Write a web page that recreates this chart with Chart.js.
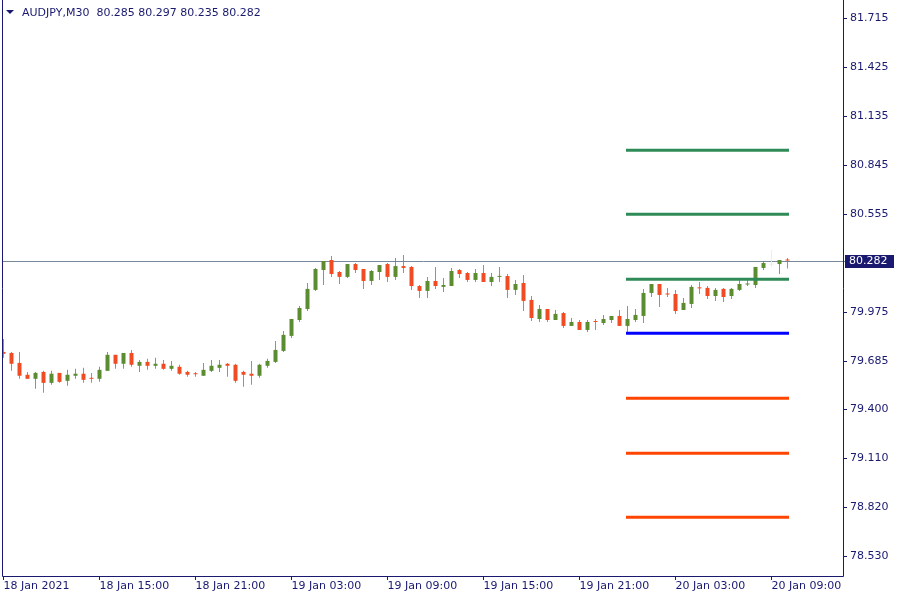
<!DOCTYPE html>
<html>
<head>
<meta charset="utf-8">
<script src="https://cdn.jsdelivr.net/npm/chart.js@4.4.1/dist/chart.umd.min.js"></script>
<style>
  html, body { margin: 0; padding: 0; background: #fff; }
</style>
</head>
<body>
<canvas id="chart" width="900" height="600"></canvas>
<script>
// AUDJPY M30, 18 Jan 09:00 .. 20 Jan 10:00 (one value per bar)
var symbol = 'AUDJPY,M30'

var openP = [79.741, 79.735, 79.676, 79.606, 79.582, 79.623, 79.558, 79.617, 79.570, 79.600,
  79.612, 79.588, 79.582, 79.629, 79.724, 79.671, 79.735, 79.659, 79.682, 79.659,
  79.671, 79.641, 79.653, 79.623, 79.614, 79.600, 79.629, 79.647, 79.671, 79.665,
  79.623, 79.612, 79.600, 79.659, 79.682, 79.747, 79.836, 79.930, 79.995, 80.108,
  80.226, 80.285, 80.214, 80.185, 80.261, 80.232, 80.161, 80.214, 80.261, 80.185,
  80.249, 80.244, 80.131, 80.102, 80.161, 80.126, 80.131, 80.226, 80.208, 80.167,
  80.208, 80.155, 80.185, 80.190, 80.108, 80.149, 80.049, 79.936, 79.995, 79.930,
  79.971, 79.895, 79.918, 79.871, 79.924, 79.912, 79.930, 79.954, 79.895, 79.930,
  79.954, 80.090, 80.143, 80.087, 80.084, 79.989, 80.025, 80.123, 80.120, 80.072,
  80.114, 80.072, 80.108, 80.140, 80.137, 80.238, 80.258, 80.261, 80.285]

var highP = [79.818, 79.741, 79.741, 79.623, 79.623, 79.629, 79.629, 79.617, 79.635, 79.641,
  79.647, 79.617, 79.653, 79.741, 79.724, 79.735, 79.753, 79.694, 79.700, 79.706,
  79.694, 79.688, 79.665, 79.629, 79.623, 79.676, 79.694, 79.694, 79.676, 79.671,
  79.629, 79.688, 79.671, 79.700, 79.806, 79.865, 79.936, 80.013, 80.149, 80.238,
  80.279, 80.308, 80.220, 80.261, 80.267, 80.232, 80.226, 80.255, 80.267, 80.297,
  80.314, 80.249, 80.137, 80.185, 80.244, 80.179, 80.238, 80.232, 80.214, 80.232,
  80.255, 80.208, 80.244, 80.202, 80.167, 80.196, 80.072, 80.019, 79.995, 79.989,
  79.977, 79.942, 79.930, 79.930, 79.936, 79.960, 79.954, 79.989, 80.013, 79.995,
  80.114, 80.143, 80.143, 80.120, 80.108, 80.060, 80.137, 80.155, 80.131, 80.120,
  80.120, 80.120, 80.179, 80.167, 80.244, 80.279, 80.344, 80.285, 80.297]

var lowP = [79.706, 79.629, 79.582, 79.582, 79.523, 79.499, 79.547, 79.558, 79.541, 79.582,
  79.558, 79.558, 79.564, 79.629, 79.641, 79.641, 79.653, 79.623, 79.635, 79.641,
  79.635, 79.629, 79.606, 79.594, 79.594, 79.600, 79.623, 79.623, 79.594, 79.558,
  79.535, 79.547, 79.588, 79.647, 79.676, 79.741, 79.824, 79.918, 79.983, 80.102,
  80.137, 80.185, 80.143, 80.179, 80.208, 80.114, 80.137, 80.167, 80.155, 80.167,
  80.208, 80.108, 80.060, 80.060, 80.114, 80.096, 80.131, 80.179, 80.155, 80.155,
  80.155, 80.131, 80.155, 80.060, 80.078, 79.983, 79.924, 79.918, 79.918, 79.930,
  79.883, 79.895, 79.871, 79.859, 79.871, 79.901, 79.912, 79.895, 79.859, 79.918,
  79.912, 80.066, 80.007, 80.066, 79.966, 79.989, 80.001, 80.084, 80.054, 80.043,
  80.037, 80.054, 80.102, 80.131, 80.120, 80.226, 80.244, 80.202, 80.235]

var closeP = [79.730, 79.671, 79.600, 79.582, 79.617, 79.558, 79.612, 79.564, 79.606, 79.612,
  79.576, 79.582, 79.635, 79.724, 79.671, 79.735, 79.665, 79.682, 79.659, 79.671,
  79.641, 79.659, 79.612, 79.606, 79.609, 79.635, 79.659, 79.665, 79.659, 79.570,
  79.606, 79.600, 79.665, 79.688, 79.753, 79.842, 79.936, 80.001, 80.114, 80.232,
  80.279, 80.202, 80.185, 80.261, 80.226, 80.161, 80.220, 80.255, 80.185, 80.249,
  80.238, 80.131, 80.102, 80.161, 80.131, 80.137, 80.220, 80.202, 80.167, 80.208,
  80.155, 80.185, 80.190, 80.108, 80.143, 80.043, 79.942, 79.995, 79.930, 79.966,
  79.895, 79.918, 79.871, 79.918, 79.918, 79.936, 79.954, 79.895, 79.936, 79.960,
  80.090, 80.143, 80.078, 80.081, 79.983, 80.031, 80.126, 80.117, 80.072, 80.108,
  80.066, 80.114, 80.143, 80.146, 80.244, 80.267, 80.258, 80.285, 80.282]

// x axis labels sit on every 12th bar
var timeTickBars = [0, 12, 24, 36, 48, 60, 72, 84, 96]
var timeTickLabels = ['18 Jan 2021', '18 Jan 15:00', '18 Jan 21:00', '19 Jan 03:00', '19 Jan 09:00',
  '19 Jan 15:00', '19 Jan 21:00', '20 Jan 03:00', '20 Jan 09:00']

var priceTicks = [81.715, 81.425, 81.135, 80.845, 80.555, 79.975, 79.685, 79.400, 79.110, 78.820, 78.530]

// level lines drawn over the last bars
var levelFrom = 78
var levelTo = 98
var resistLevels = [80.934, 80.555, 80.171]
var pivotLevels = [79.851]
var supportLevels = [79.467, 79.141, 78.763]

var ink = '#191970'
var bullColor = '#5b8c30'
var bearColor = '#f04b23'
var flatColor = '#f5e6da'

function candleColor(i) {
  if (closeP[i] > openP[i]) return bullColor
  if (closeP[i] < openP[i]) return bearColor
  return flatColor
}

var bars = openP.map(function (o, i) { return i })
var colors = bars.map(candleColor)

function levelSet(levels, color) {
  return levels.map(function (v) {
    return {
      type: 'line',
      data: [{ x: levelFrom, y: v }, { x: levelTo, y: v }],
      borderColor: color,
      borderWidth: 3,
      borderCapStyle: 'square',
      pointRadius: 0,
      order: 0
    }
  })
}

var datasets = [
  {
    data: bars.map(function (i) { return { x: i, y: [lowP[i], highP[i]] } }),
    backgroundColor: colors,
    grouped: false,
    barPercentage: 0.125,
    maxBarThickness: 1,
    inflateAmount: 0,
    order: 2
  },
  {
    data: bars.map(function (i) { return { x: i, y: [openP[i], closeP[i]] } }),
    backgroundColor: colors,
    grouped: false,
    barPercentage: 0.625,
    maxBarThickness: 5,
    minBarLength: 1,
    inflateAmount: 0,
    order: 1
  }
].concat(levelSet(resistLevels, '#2e8b57'), levelSet(pivotLevels, '#0000ff'), levelSet(supportLevels, '#ff4500'))

var lastPrice = closeP[closeP.length - 1]

var overlay = {
  id: 'overlay',
  beforeDatasetsDraw: function (chart) {
    var ctx = chart.ctx
    var a = chart.chartArea
    var py = Math.round(chart.scales.y.getPixelForValue(lastPrice)) + 0.5
    ctx.save()
    ctx.strokeStyle = '#778899'
    ctx.lineWidth = 1
    ctx.beginPath()
    ctx.moveTo(a.left, py)
    ctx.lineTo(a.right + 2, py)
    ctx.stroke()
    ctx.restore()
  },
  afterDraw: function (chart) {
    var ctx = chart.ctx
    var a = chart.chartArea
    ctx.save()
    // frame
    ctx.strokeStyle = ink
    ctx.lineWidth = 1
    ctx.beginPath()
    ctx.moveTo(a.left + 0.5, 0)
    ctx.lineTo(a.left + 0.5, a.bottom + 0.5)
    ctx.lineTo(a.right + 0.5, a.bottom + 0.5)
    ctx.lineTo(a.right + 0.5, 0)
    ctx.stroke()

    // current price tag
    var py = Math.round(chart.scales.y.getPixelForValue(lastPrice))
    ctx.fillStyle = ink
    ctx.fillRect(a.right + 2, py - 6, 49, 13)
    ctx.fillStyle = '#ffffff'
    ctx.font = '11px "DejaVu Sans"'
    ctx.textBaseline = 'middle'
    ctx.textAlign = 'left'
    ctx.fillText(lastPrice.toFixed(3), a.right + 6, py + 0.5)

    // header
    ctx.fillStyle = ink
    ctx.beginPath()
    ctx.moveTo(6, 10)
    ctx.lineTo(14, 10)
    ctx.lineTo(10, 14)
    ctx.closePath()
    ctx.fill()
    var header = symbol + '  ' + [openP, highP, lowP, closeP].map(function (s) {
      return s[s.length - 1].toFixed(3)
    }).join(' ')
    ctx.fillText(header, 22, 13)
    ctx.restore()
  }
}

new Chart(document.getElementById('chart'), {
  type: 'bar',
  data: { datasets: datasets },
  plugins: [overlay],
  options: {
    responsive: false,
    animation: false,
    layout: { padding: { left: 2, top: 0, right: 0, bottom: 0 } },
    plugins: { legend: { display: false }, tooltip: { enabled: false } },
    scales: {
      x: {
        type: 'linear',
        min: -0.1875,
        max: 104.9375,
        offset: false,
        afterBuildTicks: function (s) {
          s.ticks = timeTickBars.map(function (v) { return { value: v } })
        },
        afterFit: function (s) {
          s.height = 24
          s.paddingLeft = 0
          s.paddingRight = 0
        },
        grid: { drawOnChartArea: false, offset: false, tickLength: 4, color: ink },
        border: { display: false },
        ticks: {
          align: 'start',
          maxRotation: 0,
          autoSkip: false,
          padding: 0,
          color: ink,
          font: { family: 'DejaVu Sans', size: 11 },
          callback: function (v) {
            return timeTickLabels[timeTickBars.indexOf(v)]
          }
        }
      },
      y: {
        position: 'right',
        min: 78.4152,
        max: 81.8234,
        afterBuildTicks: function (s) {
          s.ticks = priceTicks.map(function (v) { return { value: v } })
        },
        afterFit: function (s) {
          s.width = 57
          s.paddingTop = 0
          s.paddingBottom = 0
        },
        grid: { drawOnChartArea: false, tickLength: 4, color: ink },
        border: { display: false },
        ticks: {
          padding: 3,
          color: ink,
          font: { family: 'DejaVu Sans', size: 11 },
          callback: function (v) { return v.toFixed(3) }
        }
      }
    }
  }
})
</script>
</body>
</html>
